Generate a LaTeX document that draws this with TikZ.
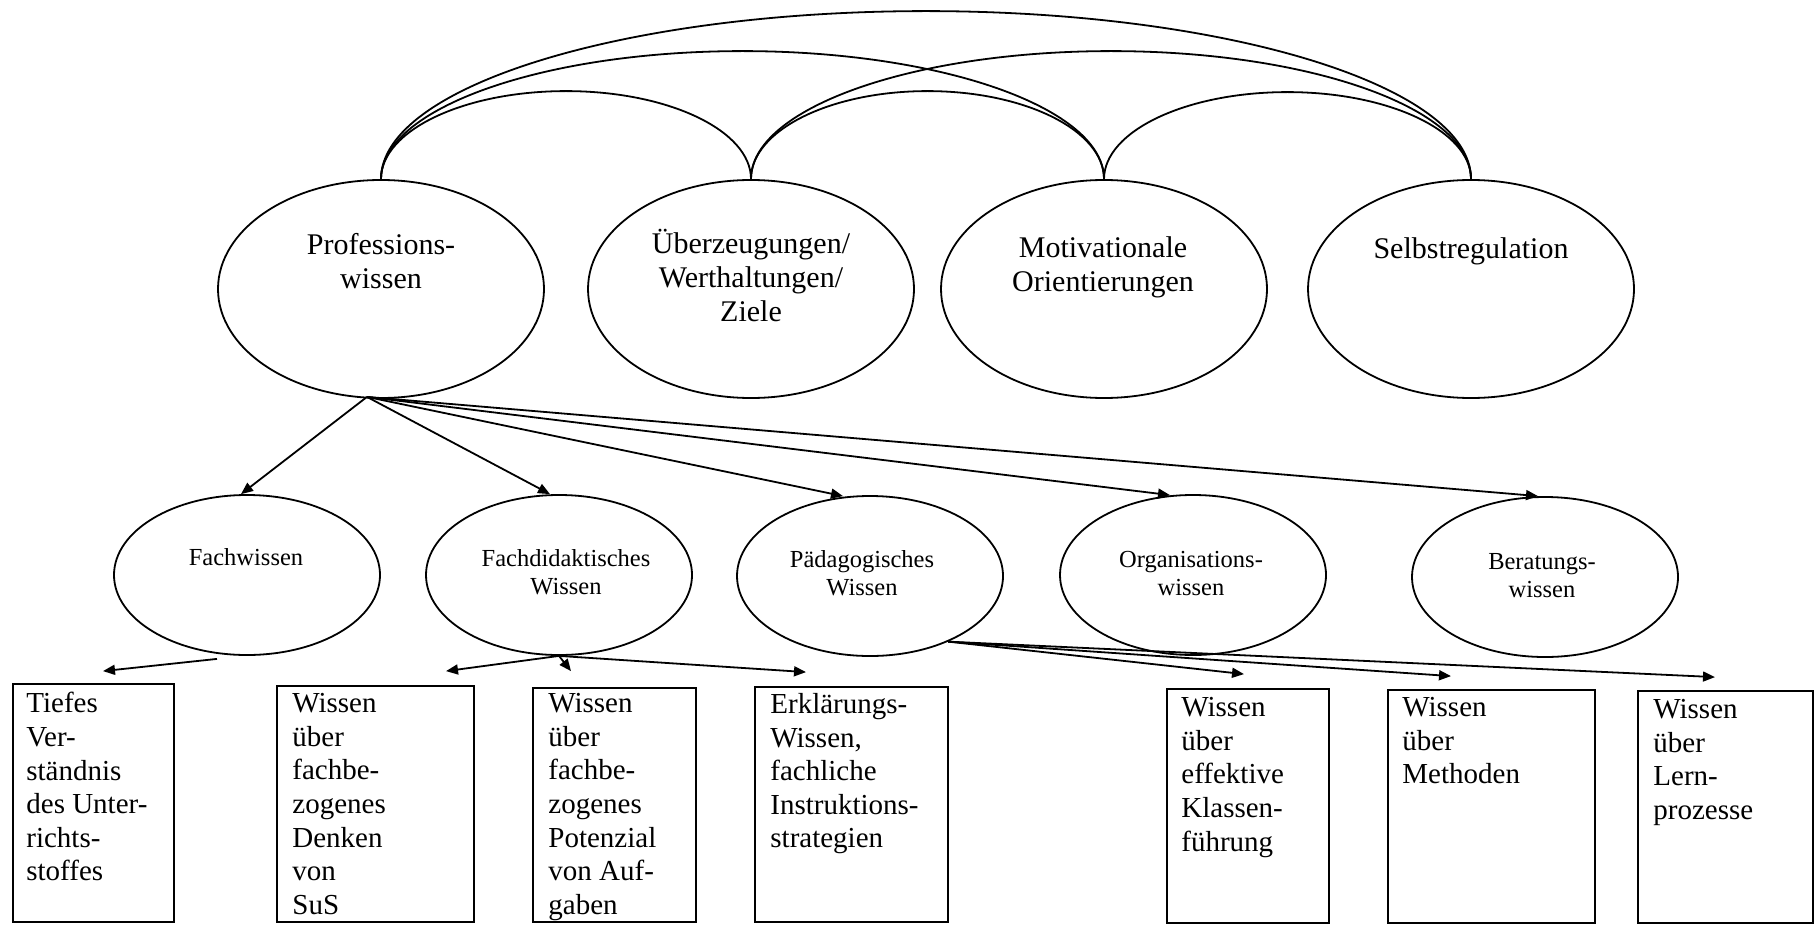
\documentclass[tikz,border=0pt]{standalone}
\usepackage{fontspec}
\setmainfont{Liberation Serif}
\usetikzlibrary{shapes.geometric,arrows.meta,calc}
\tikzset{
 topell/.style={draw, ellipse, line width=0.9pt, minimum width=163pt, minimum height=109pt, inner sep=0pt},
 midell/.style={draw, ellipse, line width=0.9pt, minimum width=133pt, minimum height=80pt, inner sep=0pt},
 kbox/.style={draw, rectangle, line width=0.9pt, inner sep=0pt},
 toptxt/.style={anchor=north, align=center, inner sep=0pt, font=\fontsize{15}{17}\selectfont},
 midtxt/.style={anchor=north, align=center, inner sep=0pt, font=\fontsize{12.25}{14}\selectfont},
 boxtxt/.style={anchor=north west, align=left, inner sep=0pt, font=\fontsize{14.5}{16.8}\selectfont},
 arr/.style={line width=0.9pt, -{Triangle[length=6pt,width=5pt]}},
 con/.style={line width=0.9pt},
}
\begin{document}
\begin{tikzpicture}[x=0.5pt,y=-0.5pt]
\fill[white] (0,0) rectangle (1818,925);
\useasboundingbox (0,0) rectangle (1818,925);
% top ellipses
\node[topell] (prof) at (381,289) {};
\node[topell] (ueb) at (751,289) {};
\node[topell] (mot) at (1104,289) {};
\node[topell] (sel) at (1471,289) {};
\node[toptxt] (proft) at (381,233) {Professions-\\wissen};
\node[toptxt] (uebt) at (751,229) {Überzeugungen/\\Werthaltungen/\\Ziele};
\node[toptxt] (mott) at (1103,236) {Motivationale\\Orientierungen};
\node[toptxt] (selt) at (1471,237) {Selbstregulation};
% arcs
\draw[con] (prof.north) arc[start angle=180,end angle=0,x radius=92.5pt,y radius=44pt];
\draw[con] (ueb.north) arc[start angle=180,end angle=0,x radius=88.25pt,y radius=44pt];
\draw[con] (mot.north) arc[start angle=180,end angle=0,x radius=91.75pt,y radius=43.5pt];
\draw[con] (prof.north) arc[start angle=180,end angle=0,x radius=180.75pt,y radius=64pt];
\draw[con] (ueb.north) arc[start angle=180,end angle=0,x radius=180pt,y radius=64pt];
\draw[con] (prof.north) arc[start angle=180,end angle=0,x radius=272.5pt,y radius=84pt];
% middle ellipses
\node[midell] (fw) at (247,575) {};
\node[midell] (fd) at (559,575) {};
\node[midell] (pa) at (870,576) {};
\node[midell] (org) at (1193,575) {};
\node[midell] (ber) at (1545,577) {};
\node[midtxt] (fwt) at (246,548) {Fachwissen};
\node[midtxt] (fdt) at (566,549) {Fachdidaktisches\\Wissen};
\node[midtxt] (pat) at (862,550) {Pädagogisches\\Wissen};
\node[midtxt] (orgt) at (1191,551) {Organisations-\\wissen};
\node[midtxt] (bert) at (1542,553) {Beratungs-\\wissen};
% boxes
\node[kbox, minimum width=80.5pt, minimum height=119pt] (b1) at (93.5,803) {};
\node[kbox, minimum width=98.5pt, minimum height=118pt] (b2) at (375.5,804) {};
\node[kbox, minimum width=81.5pt, minimum height=117pt] (b3) at (614.5,805) {};
\node[kbox, minimum width=96.5pt, minimum height=117.5pt] (b4) at (851.5,804.5) {};
\node[kbox, minimum width=81pt, minimum height=117pt] (b5) at (1248,806) {};
\node[kbox, minimum width=103.5pt, minimum height=116.5pt] (b6) at (1491.5,806.5) {};
\node[kbox, minimum width=87.5pt, minimum height=116pt] (b7) at (1725.5,807) {};
\node[boxtxt] (b1t) at (26,692) {Tiefes\\Ver-\\ständnis\\des Unter-\\richts-\\stoffes};
\node[boxtxt] (b2t) at (292,693) {Wissen\\über\\fachbe-\\zogenes\\Denken\\von\\SuS};
\node[boxtxt] (b3t) at (548,693) {Wissen\\über\\fachbe-\\zogenes\\Potenzial\\von Auf-\\gaben};
\node[boxtxt] (b4t) at (770,693) {Erklärungs-\\Wissen,\\fachliche\\Instruktions-\\strategien};
\node[boxtxt] (b5t) at (1181,697) {Wissen\\über\\effektive\\Klassen-\\führung};
\node[boxtxt] (b6t) at (1402,697) {Wissen\\über\\Methoden};
\node[boxtxt] (b7t) at (1653,699) {Wissen\\über\\Lern-\\prozesse};
% arrows from Professionswissen
\coordinate (ps) at ($(prof.south)+(-14,-2)$);
\draw[arr] (ps) -- ($(fw.north)+(-6,0)$);
\draw[arr] (ps) -- ($(fd.north)+(-9,0)$);
\draw[arr] (ps) -- ($(pa.north)+(-27,1)$);
\draw[arr] (ps) -- ($(org.north)+(-23,1)$);
\draw[arr] (ps) -- ($(ber.north)+(-7,0)$);
% arrows to boxes
\coordinate (fws) at ($(fw.south)+(-30,3)$);
\draw[arr] (fws) -- ($(b1.north)+(9.5,-12)$);
\draw[arr] (fd.south) -- ($(b2.north)+(70.5,-14)$);
\draw[arr] (fd.south) -- ($(b3.north)+(-43.5,-16)$);
\draw[arr] (fd.south) -- ($(b4.north)+(-45.5,-14)$);
\draw[arr] (pa.-40) -- ($(b5.north)+(-4,-14)$);
\draw[arr] (pa.-40) -- ($(b6.north)+(-40.5,-13)$);
\draw[arr] (pa.-40) -- ($(b7.north)+(-10.5,-13)$);
\end{tikzpicture}
\end{document}
